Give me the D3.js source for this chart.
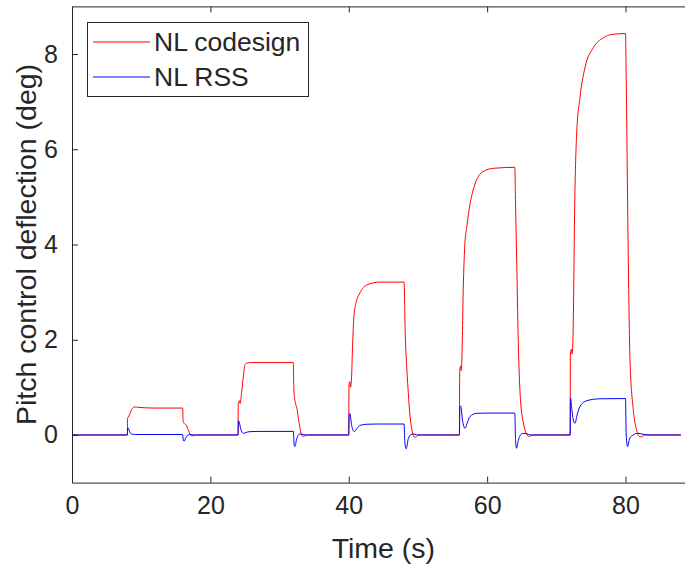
<!DOCTYPE html>
<html>
<head>
<meta charset="utf-8">
<script src="https://cdn.jsdelivr.net/npm/d3@7"></script>
<style>
  html, body { margin: 0; padding: 0; background: #fff; }
  svg { display: block; }
  text { font-family: "Liberation Sans", Arial, Helvetica, sans-serif; fill: #262626; }
</style>
</head>
<body>
<svg id="chart" width="685" height="566"></svg>
<script>
// ---- data ----
const xTicks = [0, 20, 40, 60, 80];
const yTicks = [0, 2, 4, 6, 8];
const xDomain = [0, 90];
const yDomain = [-1, 9];
const seriesNames = ["NL codesign", "NL RSS"];
const seriesColors = ["#ff0000", "#0000ff"];

const codesignTime = [
  0, 8.0, 8.03, 8.15, 8.3, 8.6, 9.1, 9.6, 12, 16.0, 16.05, 16.2, 16.5, 16.9, 17.3, 17.7, 18.2,
  24.0, 24.03, 24.2, 24.3, 24.5, 24.76, 25.0, 25.25, 26, 32.0, 32.05, 32.2, 32.5, 32.8, 33.1, 33.4, 33.8, 34.3,
  40.0, 40.03, 40.15, 40.25, 40.4, 40.55, 40.75, 41.05, 41.6, 42.6, 44.5, 48.0, 48.15, 48.35, 48.6, 48.85, 49.1, 49.35, 49.6, 50.0, 50.4,
  56.0, 56.03, 56.15, 56.25, 56.35, 56.55, 56.8, 57.03, 57.5, 58.2, 59.4, 60.9, 64.0, 64.1, 64.26, 64.5, 64.84, 65.3, 65.7, 66.0, 66.4, 66.8,
  72.0, 72.03, 72.2, 72.3, 72.4, 72.69, 72.93, 73.41, 74.13, 75.33, 76.78, 78.0, 80.0, 80.1, 80.4, 80.64, 81.1, 81.6, 82.0, 82.3, 82.8, 88.0
];
const codesignDeg = [
  0, 0, 0.35, 0.38, 0.42, 0.53, 0.59, 0.58, 0.565, 0.565, 0.30, 0.245, 0.21, 0.07, -0.02, -0.01, 0,
  0, 0.65, 0.72, 0.66, 0.875, 1.22, 1.47, 1.51, 1.52, 1.52, 1.0, 0.74, 0.56, 0.28, 0.035, -0.03, -0.01, 0,
  0, 1.05, 1.12, 1.0, 1.2, 1.86, 2.5, 2.77, 2.98, 3.15, 3.21, 3.21, 2.2, 1.5, 0.9, 0.4, 0.13, -0.02, -0.05, -0.01, 0,
  0, 1.3, 1.45, 1.35, 1.6, 3.08, 4.06, 4.34, 4.83, 5.25, 5.53, 5.60, 5.62, 4.9, 3.78, 1.96, 0.70, 0.21, 0.02, -0.03, -0.01, 0,
  0, 1.7, 1.8, 1.7, 2.0, 5.11, 6.30, 7.08, 7.71, 8.13, 8.34, 8.41, 8.43, 7.5, 3.71, 1.61, 0.56, 0.105, -0.03, -0.04, 0, 0
];

const rssTime = [
  0, 8.0, 8.05, 8.15, 8.35, 8.6, 9.2, 16.0, 16.08, 16.2, 16.45, 16.7, 17.1, 17.6,
  24.0, 24.05, 24.15, 24.4, 24.76, 25.2, 25.7, 27, 32.0, 32.1, 32.2, 32.5, 32.9, 33.4, 34.0,
  40.0, 40.05, 40.17, 40.4, 40.8, 41.2, 41.6, 42.6, 44, 48.0, 48.1, 48.3, 48.6, 49.0, 49.3, 49.8, 50.3,
  56.0, 56.05, 56.17, 56.45, 56.8, 57.1, 57.5, 58.5, 60, 64.0, 64.1, 64.26, 64.45, 64.7, 65.1, 65.5, 66.0, 66.5,
  72.0, 72.03, 72.07, 72.2, 72.45, 72.7, 73.0, 73.4, 74.4, 76.3, 80.0, 80.1, 80.3, 80.6, 81.1, 81.8, 82.7, 83.5, 88.0
];
const rssDeg = [
  0, 0, 0.15, 0.14, 0.06, 0.02, 0.01, 0.01, -0.10, -0.13, -0.06, -0.01, 0.01, 0,
  0, 0.30, 0.28, 0.12, 0.035, 0.055, 0.07, 0.075, 0.075, -0.2, -0.245, -0.07, 0.02, 0.01, 0,
  0, 0.43, 0.45, 0.22, 0.07, 0.14, 0.2, 0.225, 0.23, 0.23, -0.15, -0.29, -0.08, 0.01, 0.02, 0.005, 0,
  0, 0.58, 0.61, 0.3, 0.14, 0.24, 0.385, 0.455, 0.46, 0.46, -0.1, -0.28, -0.15, -0.03, 0.03, 0.035, 0.01, 0,
  0, 0.7, 0.77, 0.6, 0.32, 0.245, 0.42, 0.595, 0.72, 0.76, 0.765, 0.0, -0.245, -0.07, 0.0, 0.035, 0.01, 0, 0
];

// ---- layout ----
const svg = d3.select("#chart");
const mLeft = 72, mTop = 6.4, mRight = 694.7, mBottom = 482.6;
const x = d3.scaleLinear().domain(xDomain).range([mLeft, mRight]);
const y = d3.scaleLinear().domain(yDomain).range([mBottom, mTop]);
const axisColor = "#262626";
const tickLen = 6;

svg.append("rect").attr("width", 685).attr("height", 566).attr("fill", "#fff");

svg.append("clipPath").attr("id", "plotclip")
  .append("rect").attr("x", mLeft).attr("y", mTop).attr("width", mRight - mLeft).attr("height", mBottom - mTop);

const line = d3.line().x(d => x(d[0])).y(d => y(d[1])).curve(d3.curveMonotoneX);
const seriesData = [
  d3.zip(codesignTime, codesignDeg),
  d3.zip(rssTime, rssDeg)
];
const plot = svg.append("g").attr("clip-path", "url(#plotclip)");
seriesData.forEach((data, i) => {
  plot.append("path")
    .datum(data)
    .attr("fill", "none")
    .attr("stroke", seriesColors[i])
    .attr("stroke-width", 1)
    .attr("d", line);
});

const xAxisB = d3.axisBottom(x).tickValues(xTicks).tickSizeInner(-tickLen).tickSizeOuter(0).tickPadding(14).tickFormat(d3.format("d"));
const xAxisT = d3.axisTop(x).tickValues(xTicks).tickSizeInner(-tickLen).tickSizeOuter(0).tickFormat("");
const yAxisL = d3.axisLeft(y).tickValues(yTicks).tickSizeInner(-tickLen).tickSizeOuter(0).tickPadding(14).tickFormat(d3.format("d"));
const yAxisR = d3.axisRight(y).tickValues(yTicks).tickSizeInner(-tickLen).tickSizeOuter(0).tickFormat("");

function style(g) {
  g.select(".domain").attr("stroke", axisColor).attr("stroke-width", 1);
  g.selectAll(".tick line").attr("stroke", axisColor).attr("stroke-width", 1);
  g.selectAll(".tick text").attr("fill", axisColor).style("font-size", "25px")
    .style("font-family", '"Liberation Sans", Arial, Helvetica, sans-serif');
}
svg.append("g").attr("transform", `translate(0,${mBottom})`).call(xAxisB).call(style);
svg.append("g").attr("transform", `translate(0,${mTop})`).call(xAxisT).call(style);
svg.append("g").attr("transform", `translate(${mLeft},0)`).call(yAxisL).call(style);
svg.append("g").attr("transform", `translate(${mRight},0)`).call(yAxisR).call(style);

svg.append("text")
  .attr("x", (mLeft + mRight) / 2).attr("y", 558)
  .attr("text-anchor", "middle")
  .style("font-size", "28.5px")
  .text("Time (s)");
svg.append("text")
  .attr("transform", `translate(36,${(mTop + mBottom) / 2}) rotate(-90)`)
  .attr("text-anchor", "middle")
  .style("font-size", "28.5px")
  .text("Pitch control deflection (deg)");

const lg = svg.append("g");
lg.append("rect").attr("x", 87.5).attr("y", 22.5).attr("width", 221).attr("height", 74)
  .attr("fill", "#fff").attr("stroke", axisColor).attr("stroke-width", 1);
const legendY = [42, 77];
seriesNames.forEach((name, i) => {
  lg.append("line").attr("x1", 93).attr("x2", 150).attr("y1", legendY[i]).attr("y2", legendY[i])
    .attr("stroke", seriesColors[i]).attr("stroke-width", 1);
  lg.append("text").attr("x", 154).attr("y", legendY[i]).attr("dy", "0.35em")
    .style("font-size", "26.5px").text(name);
});
</script>
</body>
</html>
